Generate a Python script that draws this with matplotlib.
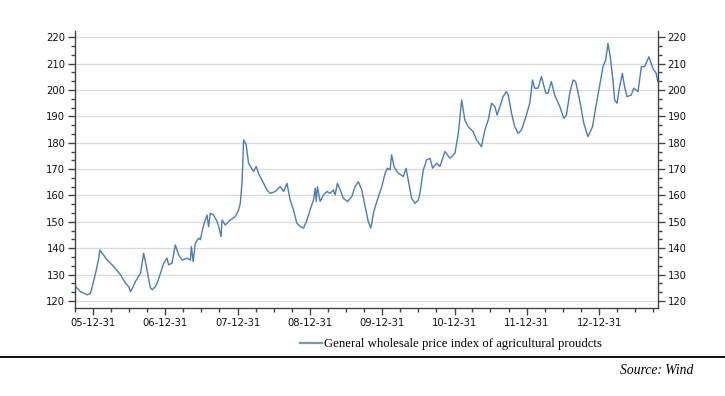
import matplotlib
matplotlib.use("Agg")
import matplotlib.pyplot as plt
import matplotlib.dates as mdates
from matplotlib.ticker import MultipleLocator, AutoMinorLocator
import pandas as pd

# values
dates = [
    "2005-10-03", "2005-10-11", "2005-10-28", "2005-11-14", "2005-12-01", "2005-12-17",
    "2005-12-26", "2006-01-12", "2006-01-28", "2006-02-02", "2006-02-14", "2006-03-12",
    "2006-04-14", "2006-05-18", "2006-06-12", "2006-06-29", "2006-07-07", "2006-07-21",
    "2006-08-01", "2006-08-27", "2006-09-12", "2006-09-26", "2006-10-08", "2006-10-16",
    "2006-10-25", "2006-11-10", "2006-11-19", "2006-12-06", "2006-12-22", "2007-01-08",
    "2007-01-16", "2007-02-02", "2007-02-19", "2007-03-08", "2007-03-25", "2007-04-19",
    "2007-05-06", "2007-05-11", "2007-05-20", "2007-05-31", "2007-06-17", "2007-06-25",
    "2007-07-12", "2007-07-29", "2007-08-06", "2007-08-15", "2007-08-31", "2007-09-18",
    "2007-09-26", "2007-10-08", "2007-10-13", "2007-10-29", "2007-11-24", "2007-12-19",
    "2008-01-05", "2008-01-13", "2008-01-22", "2008-01-30", "2008-02-12", "2008-02-24",
    "2008-03-20", "2008-04-03", "2008-04-14", "2008-05-10", "2008-05-27", "2008-06-12",
    "2008-07-08", "2008-08-02", "2008-08-19", "2008-09-05", "2008-09-21", "2008-10-08",
    "2008-10-25", "2008-11-11", "2008-11-28", "2008-12-15", "2008-12-31", "2009-01-17",
    "2009-01-26", "2009-01-31", "2009-02-06", "2009-02-20", "2009-03-08", "2009-03-26",
    "2009-04-11", "2009-04-28", "2009-05-06", "2009-05-18", "2009-06-01", "2009-06-17",
    "2009-07-08", "2009-07-30", "2009-08-15", "2009-09-01", "2009-09-18", "2009-10-05",
    "2009-10-21", "2009-11-03", "2009-11-16", "2009-12-03", "2009-12-28", "2010-01-14",
    "2010-01-25", "2010-02-08", "2010-02-16", "2010-02-28", "2010-03-22", "2010-04-16",
    "2010-04-30", "2010-05-11", "2010-05-28", "2010-06-14", "2010-07-01", "2010-07-09",
    "2010-07-26", "2010-08-12", "2010-08-29", "2010-09-11", "2010-10-01", "2010-10-18",
    "2010-11-12", "2010-12-08", "2011-01-02", "2011-01-19", "2011-02-05", "2011-02-21",
    "2011-03-10", "2011-04-04", "2011-04-21", "2011-05-16", "2011-06-02", "2011-06-19",
    "2011-07-06", "2011-07-23", "2011-08-03", "2011-08-17", "2011-09-02", "2011-09-19",
    "2011-09-28", "2011-10-15", "2011-10-31", "2011-11-17", "2011-12-04", "2011-12-29",
    "2012-01-15", "2012-01-29", "2012-02-09", "2012-02-26", "2012-03-14", "2012-04-05",
    "2012-04-16", "2012-05-03", "2012-05-20", "2012-06-15", "2012-07-05", "2012-07-18",
    "2012-08-04", "2012-08-21", "2012-09-03", "2012-09-23", "2012-10-14", "2012-11-04",
    "2012-11-27", "2012-12-17", "2013-01-03", "2013-01-19", "2013-02-02", "2013-02-13",
    "2013-02-25", "2013-03-11", "2013-03-19", "2013-03-31", "2013-04-13", "2013-04-27",
    "2013-05-08", "2013-05-20", "2013-06-11", "2013-06-23", "2013-07-15", "2013-08-01",
    "2013-08-17", "2013-09-08", "2013-09-28", "2013-10-15", "2013-10-23",
]
index_values = [
    125.4, 124.8, 123.5, 122.9, 122.3, 122.9,
    125.4, 130.5, 136.2, 139.3, 138.1, 135.5,
    133.0, 129.9, 126.7, 125.4, 123.5, 125.4,
    127.3, 130.5, 138.1, 133.0, 128.0, 125.0,
    124.2, 125.4, 126.7, 130.5, 134.3, 136.2,
    133.7, 134.3, 141.2, 137.4, 135.5, 136.2,
    135.5, 140.6, 134.9, 141.9, 143.8, 143.2,
    148.8, 152.6, 148.2, 153.3, 152.6, 150.1,
    148.2, 144.4, 150.7, 148.8, 150.7, 152.0,
    154.5, 157.0, 164.6, 181.1, 179.2, 172.2,
    169.1, 171.0, 168.4, 164.6, 162.1, 160.8,
    161.5, 163.4, 161.5, 164.6, 158.3, 154.5,
    149.5, 148.2, 147.6, 150.7, 154.5, 158.3,
    162.7, 157.7, 163.3, 157.7, 160.2, 161.5,
    160.8, 162.1, 160.2, 164.6, 162.1, 158.9,
    157.7, 159.6, 163.3, 165.2, 162.1, 155.8,
    150.1, 147.6, 153.3, 157.7, 163.3, 168.4,
    170.3, 169.7, 175.4, 170.9, 168.4, 167.2,
    170.3, 165.9, 158.9, 157.0, 158.3, 160.8,
    169.7, 173.5, 174.1, 170.4, 172.2, 171.0,
    176.7, 174.1, 176.0, 183.6, 196.2, 188.6,
    186.1, 184.2, 181.1, 178.5, 184.8, 188.6,
    195.0, 193.7, 190.5, 193.7, 197.5, 199.4,
    198.1, 191.2, 186.1, 183.6, 184.8, 190.5,
    195.0, 203.8, 200.7, 200.7, 205.1, 198.8,
    198.8, 203.2, 198.1, 193.7, 189.3, 190.5,
    198.8, 203.8, 203.2, 196.2, 187.4, 182.3,
    186.1, 195.0, 202.0, 208.9, 211.4, 217.7,
    212.6, 203.2, 196.2, 195.0, 201.3, 206.3,
    201.3, 197.5, 198.1, 200.7, 199.4, 208.9,
    208.9, 212.6, 208.2, 206.3, 203.2,
]
series_label = "General wholesale price index of agricultural proudcts"
source_text = "Source: Wind"

x = pd.to_datetime(dates)

fig = plt.figure(figsize=(7.25, 3.96), dpi=100)
ax = fig.add_axes([75 / 725, 1 - 308 / 396, 583 / 725, 277 / 396])

line, = ax.plot(x, index_values, color="#4a7cb8", linewidth=1.0, label=series_label)

ax.set_ylim(117.3, 222.4)
ax.set_xlim(pd.Timestamp("2005-10-01"), pd.Timestamp("2013-10-24"))

ax.yaxis.set_major_locator(MultipleLocator(10))
ax.yaxis.set_minor_locator(AutoMinorLocator(3))
ax.grid(axis="y", which="major", color="#d9d9d9", linewidth=0.9)
ax.set_axisbelow(True)

year_ticks = pd.date_range("2005-12-31", "2012-12-31", freq="YE")
quarter_ticks = pd.date_range("2005-09-30", "2013-09-30", freq="QE")
ax.set_xticks(year_ticks)
ax.set_xticks(quarter_ticks, minor=True)
ax.xaxis.set_major_formatter(mdates.DateFormatter("%y-%m-%d"))

spine_col = "#444444"
for side in ["left", "right", "bottom"]:
    ax.spines[side].set_color(spine_col)
    ax.spines[side].set_linewidth(1.0)
ax.spines["top"].set_visible(False)

ax.tick_params(axis="both", which="major", length=5, width=1.0, color=spine_col,
               labelsize=7.2, labelcolor="#111111", pad=2)
ax.tick_params(axis="both", which="minor", length=3, width=1.0, color=spine_col)
ax.tick_params(axis="y", which="both", left=True, right=True, labelleft=True, labelright=True)

leg_handle = plt.Line2D([], [], color="#7f96a8", linewidth=1.6)
fig.legend(handles=[leg_handle], labels=[series_label], loc="center left",
           bbox_to_anchor=(300 / 725, 1 - 344 / 396), frameon=False,
           prop={"family": "Liberation Serif", "size": 9.2},
           handlelength=1.75, handletextpad=0.12, borderpad=0, borderaxespad=0)

fig.add_artist(plt.Line2D([0, 1], [1 - 356.5 / 396, 1 - 356.5 / 396],
                          transform=fig.transFigure, color="black", linewidth=1.3))

fig.text(693 / 725, 1 - 370 / 396, source_text, ha="right", va="center",
         family="Liberation Serif", style="italic", fontsize=9.8)

fig.savefig("out.png", dpi=100)
